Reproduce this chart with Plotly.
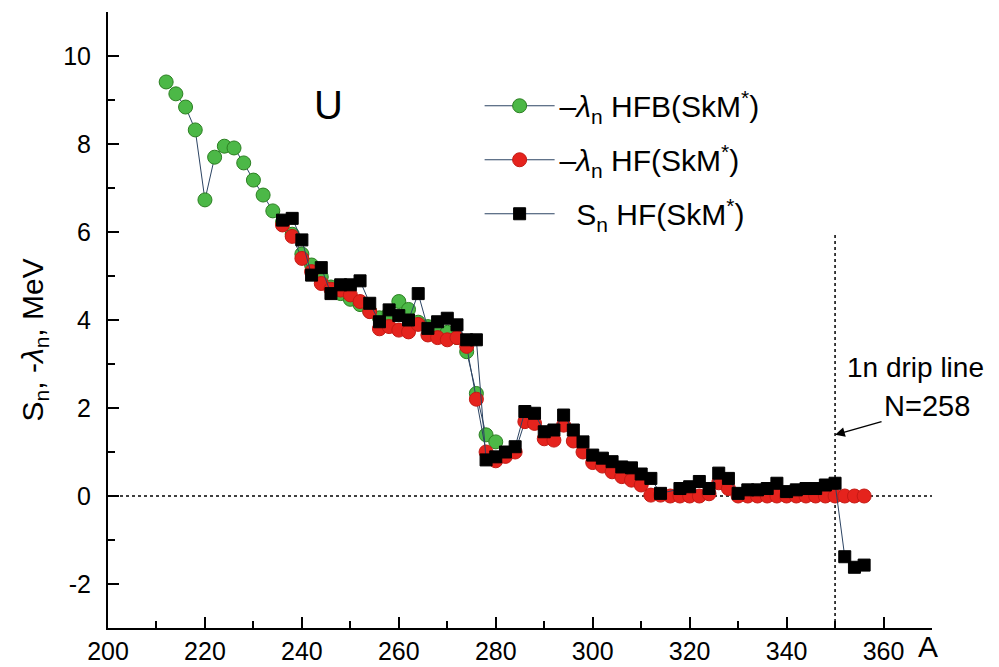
import plotly.graph_objects as go

# Mass numbers and neutron separation energies / Fermi energies for U isotopes (MeV)
A_hfb = [212, 214, 216, 218, 220, 222, 224, 226, 228, 230, 232, 234, 236, 238,
         240, 242, 244, 246, 248, 250, 252, 254, 256, 258, 260, 262, 264, 266,
         268, 270, 272, 274, 276, 278, 280]
lam_hfb = [9.41, 9.14, 8.84, 8.32, 6.73, 7.70, 7.95, 7.91, 7.57, 7.18, 6.84, 6.48,
           6.22, 5.95, 5.50, 5.25, 4.98, 4.75, 4.60, 4.47, 4.35, 4.20, 4.05, 4.15,
           4.42, 4.24, 3.95, 3.85, 3.78, 3.72, 3.60, 3.28, 2.33, 1.39, 1.23]

A_hf = [236, 238, 240, 242, 244, 246, 248, 250, 252, 254, 256, 258, 260, 262,
        264, 266, 268, 270, 272, 274, 276, 278, 280, 282, 284, 286, 288, 290,
        292, 294, 296, 298, 300, 302, 304, 306, 308, 310, 312, 314, 316, 318,
        320, 322, 324, 326, 328, 330, 332, 334, 336, 338, 340, 342, 344, 346,
        348, 350, 352, 354, 356]
lam_hf = [6.16, 5.90, 5.40, 5.10, 4.83, 4.70, 4.68, 4.57, 4.42, 4.19, 3.80, 3.85,
          3.77, 3.73, 3.90, 3.66, 3.60, 3.55, 3.60, 3.40, 2.20, 1.00, 0.80, 0.90,
          1.00, 1.69, 1.65, 1.30, 1.27, 1.61, 1.25, 1.00, 0.76, 0.68, 0.55, 0.44,
          0.36, 0.25, 0.02, 0.02, 0.00, 0.00, 0.00, 0.00, 0.05, 0.30, 0.17, 0.00,
          0.00, 0.00, 0.00, 0.00, 0.00, 0.00, 0.00, 0.00, 0.00, 0.00, 0.00, 0.00,
          0.00]

A_sn = [236, 238, 240, 242, 244, 246, 248, 250, 252, 254, 256, 258, 260, 262,
        264, 266, 268, 270, 272, 274, 276, 278, 280, 282, 284, 286, 288, 290,
        292, 294, 296, 298, 300, 302, 304, 306, 308, 310, 312, 314, 318, 320,
        322, 324, 326, 328, 330, 332, 334, 336, 338, 340, 342, 344, 346, 348,
        350, 352, 354, 356]
s_n = [6.27, 6.31, 5.82, 5.02, 5.19, 4.60, 4.80, 4.80, 4.89, 4.38, 3.96, 4.23,
       4.10, 4.00, 4.60, 3.81, 3.96, 4.04, 3.89, 3.55, 3.55, 0.82, 0.89, 1.00,
       1.12, 1.92, 1.88, 1.46, 1.50, 1.84, 1.50, 1.23, 0.93, 0.86, 0.78, 0.66,
       0.64, 0.50, 0.40, 0.06, 0.17, 0.21, 0.33, 0.17, 0.52, 0.40, 0.06, 0.14,
       0.14, 0.17, 0.29, 0.10, 0.14, 0.17, 0.17, 0.25, 0.29, -1.38, -1.62, -1.57]

# axis ticks
x_major = [200, 220, 240, 260, 280, 300, 320, 340, 360]
x_minor = [210, 230, 250, 270, 290, 310, 330, 350, 370]
y_major = [-2, 0, 2, 4, 6, 8, 10]
y_major_text = ["-2", "0", "2", "4", "6", "8", "10"]
y_minor = [-3, -1, 1, 3, 5, 7, 9, 11]

DRIP_A = 350          # 1n drip line, N = 258
X_RANGE = [200, 370]
Y_RANGE = [-3, 11]

LINE_COLOR = "#2c4463"
FONT = "Arial, Liberation Sans, sans-serif"

fig = go.Figure()

fig.add_trace(go.Scatter(
    x=A_hfb, y=lam_hfb, mode="lines+markers",
    name="\u2013<i>\u03bb</i><sub>n</sub> HFB(SkM<sup>*</sup>)",
    legendgroup="g1",
    line=dict(color=LINE_COLOR, width=1),
    marker=dict(symbol="circle", size=14, color="#4cb847",
                line=dict(color="#2b7f21", width=1)),
))
fig.add_trace(go.Scatter(
    x=A_hf, y=lam_hf, mode="lines+markers",
    name="\u2013<i>\u03bb</i><sub>n</sub> HF(SkM<sup>*</sup>)",
    legendgroup="g2",
    line=dict(color=LINE_COLOR, width=1),
    marker=dict(symbol="circle", size=14, color="#e5231d",
                line=dict(color="#c41a14", width=1)),
))
fig.add_trace(go.Scatter(
    x=A_sn, y=s_n, mode="lines+markers",
    name="\u00a0\u00a0S<sub>n</sub> HF(SkM<sup>*</sup>)",
    legendgroup="g3",
    line=dict(color=LINE_COLOR, width=1),
    marker=dict(symbol="square", size=12, color="black",
                line=dict(color="black", width=1)),
))

# reference lines: zero level and drip line
fig.add_shape(type="line", xref="x", yref="y", x0=X_RANGE[0], x1=X_RANGE[1],
              y0=0, y1=0, line=dict(color="black", width=1.5, dash="dot"),
              layer="below")
fig.add_shape(type="line", xref="x", yref="y", x0=DRIP_A, x1=DRIP_A,
              y0=Y_RANGE[0], y1=6, line=dict(color="black", width=1.5, dash="dot"),
              layer="below")

axis_common = dict(
    showline=True, linecolor="black", linewidth=2, mirror=False,
    ticks="inside", ticklen=11, tickwidth=2, tickcolor="black",
    showgrid=False, zeroline=False, automargin=False,
    tickfont=dict(family=FONT, size=25, color="black"),
)

fig.update_xaxes(range=X_RANGE, tickmode="array", tickvals=x_major,
                 minor=dict(tickmode="array", tickvals=x_minor, ticks="inside",
                            ticklen=7, tickwidth=2, tickcolor="black",
                            showgrid=False),
                 **axis_common)
fig.update_yaxes(range=Y_RANGE, tickmode="array", tickvals=y_major,
                 ticktext=y_major_text, ticklabelstandoff=10,
                 minor=dict(tickmode="array", tickvals=y_minor, ticks="inside",
                            ticklen=7, tickwidth=2, tickcolor="black",
                            showgrid=False),
                 **axis_common)

annotations = [
    dict(text="U", x=245.5, y=8.89, xref="x", yref="y", showarrow=False,
         font=dict(family=FONT, size=40, color="black")),
    dict(text="1n drip line", x=366.5, y=2.93, xref="x", yref="y",
         showarrow=False, font=dict(family=FONT, size=28, color="black")),
    dict(text="N=258", x=369.0, y=2.05, xref="x", yref="y",
         showarrow=False, font=dict(family=FONT, size=29, color="black")),
    dict(text="", x=DRIP_A, y=1.39, xref="x", yref="y", ax=359.9, ay=1.7,
         axref="x", ayref="y", showarrow=True, arrowhead=2, arrowsize=1.3,
         arrowwidth=1.5, arrowcolor="black"),
    dict(text="A", x=369.2, y=-0.03, xref="x", yref="paper", showarrow=False,
         yanchor="middle", font=dict(family=FONT, size=30, color="black")),
    dict(text="S<sub>n</sub>, -<i>\u03bb</i><sub>n</sub>, MeV",
         x=-0.089, y=3.55, xref="paper", yref="y", textangle=-90,
         xanchor="center", yanchor="middle",
         showarrow=False, font=dict(family=FONT, size=30, color="black")),
]

fig.update_layout(
    width=999, height=667,
    margin=dict(l=108, r=67, t=12, b=39, autoexpand=False),
    plot_bgcolor="white", paper_bgcolor="white",
    font=dict(family=FONT, color="black"),
    annotations=annotations,
    showlegend=True,
    legend=dict(x=0.451, y=0.89, xanchor="left", yanchor="top",
                bgcolor="rgba(0,0,0,0)", itemwidth=70, tracegroupgap=12,
                font=dict(family=FONT, size=30, color="black")),
)

fig.write_html("out.html")
